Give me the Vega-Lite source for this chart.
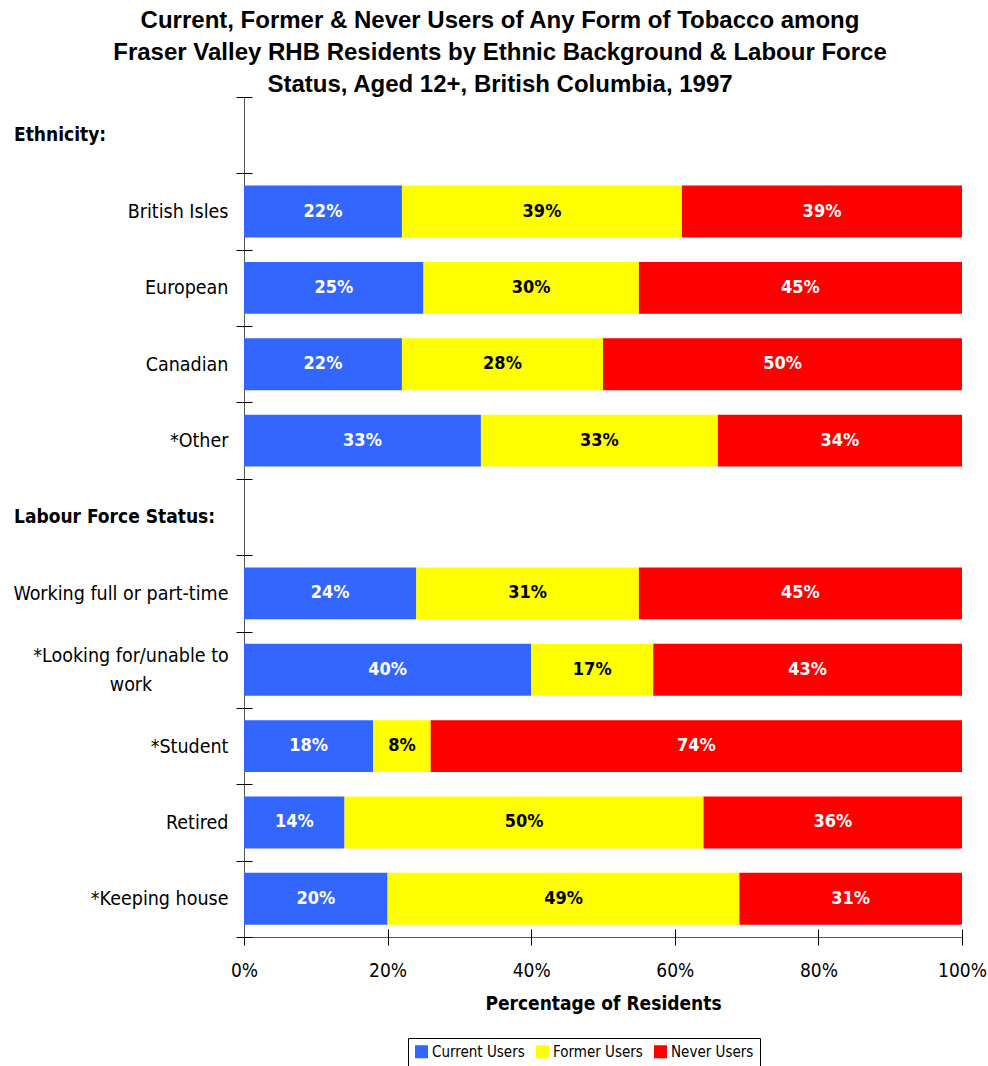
{
  "$schema": "https://vega.github.io/schema/vega-lite/v6.json",
  "width": 718,
  "height": 840,
  "autosize": "none",
  "padding": {"left": 244, "top": 97, "right": 26, "bottom": 129},
  "background": "white",
  "title": {
    "text": ["Current, Former & Never Users of Any Form of Tobacco among", "Fraser Valley RHB Residents by Ethnic Background & Labour Force", "Status, Aged 12+, British Columbia, 1997"],
    "font": "Liberation Sans",
    "fontSize": 24,
    "fontWeight": "bold",
    "lineHeight": 32,
    "anchor": "middle",
    "dx": -103,
    "offset": -10,
    "color": "black"
  },
  "datasets": {
    "bars": [
      {"group": "British Isles", "type": "Current Users", "order": 1, "value": 22},
      {"group": "British Isles", "type": "Former Users", "order": 2, "value": 39},
      {"group": "British Isles", "type": "Never Users", "order": 3, "value": 39},
      {"group": "European", "type": "Current Users", "order": 1, "value": 25},
      {"group": "European", "type": "Former Users", "order": 2, "value": 30},
      {"group": "European", "type": "Never Users", "order": 3, "value": 45},
      {"group": "Canadian", "type": "Current Users", "order": 1, "value": 22},
      {"group": "Canadian", "type": "Former Users", "order": 2, "value": 28},
      {"group": "Canadian", "type": "Never Users", "order": 3, "value": 50},
      {"group": "*Other", "type": "Current Users", "order": 1, "value": 33},
      {"group": "*Other", "type": "Former Users", "order": 2, "value": 33},
      {"group": "*Other", "type": "Never Users", "order": 3, "value": 34},
      {"group": "Working full or part-time", "type": "Current Users", "order": 1, "value": 24},
      {"group": "Working full or part-time", "type": "Former Users", "order": 2, "value": 31},
      {"group": "Working full or part-time", "type": "Never Users", "order": 3, "value": 45},
      {"group": "*Looking for/unable to work", "type": "Current Users", "order": 1, "value": 40},
      {"group": "*Looking for/unable to work", "type": "Former Users", "order": 2, "value": 17},
      {"group": "*Looking for/unable to work", "type": "Never Users", "order": 3, "value": 43},
      {"group": "*Student", "type": "Current Users", "order": 1, "value": 18},
      {"group": "*Student", "type": "Former Users", "order": 2, "value": 8},
      {"group": "*Student", "type": "Never Users", "order": 3, "value": 74},
      {"group": "Retired", "type": "Current Users", "order": 1, "value": 14},
      {"group": "Retired", "type": "Former Users", "order": 2, "value": 50},
      {"group": "Retired", "type": "Never Users", "order": 3, "value": 36},
      {"group": "*Keeping house", "type": "Current Users", "order": 1, "value": 20},
      {"group": "*Keeping house", "type": "Former Users", "order": 2, "value": 49},
      {"group": "*Keeping house", "type": "Never Users", "order": 3, "value": 31}
    ],
    "headers": [
      {"group": "Ethnicity:", "label": "Ethnicity:", "kind": "header"},
      {"group": "Labour Force Status:", "label": "Labour Force Status:", "kind": "header"}
    ],
    "wrapped": [
      {"group": "*Looking for/unable to work", "label": "*Looking for/unable to|work"}
    ]
  },
  "config": {
    "view": {"stroke": null},
    "axis": {"labelFont": "DejaVu Sans Condensed", "titleFont": "DejaVu Sans Condensed", "labelColor": "black", "titleColor": "black", "grid": false}
  },
  "resolve": {"axis": {"x": "independent", "y": "independent"}},
  "layer": [
    {
      "data": {"name": "bars"},
      "transform": [
        {"stack": "value", "groupby": ["group"], "sort": [{"field": "order"}], "as": ["x0", "x1"]}
      ],
      "mark": {"type": "bar", "height": {"band": 0.68}},
      "encoding": {
        "y": {
          "field": "group",
          "type": "nominal",
          "sort": ["Ethnicity:", "British Isles", "European", "Canadian", "*Other", "Labour Force Status:", "Working full or part-time", "*Looking for/unable to work", "*Student", "Retired", "*Keeping house"],
          "scale": {"domain": ["Ethnicity:", "British Isles", "European", "Canadian", "*Other", "Labour Force Status:", "Working full or part-time", "*Looking for/unable to work", "*Student", "Retired", "*Keeping house"], "paddingInner": 0, "paddingOuter": 0},
          "axis": {
            "title": null,
            "orient": "left",
            "tickBand": "extent",
            "tickSize": 8,
            "tickColor": "black",
            "domainColor": "#555",
            "labelFontSize": 19.5,
            "labelPadding": 8,
            "labelLimit": 300,
            "labelExpr": "datum.value == 'Ethnicity:' || datum.value == 'Labour Force Status:' || datum.value == '*Looking for/unable to work' ? '' : datum.value"
          }
        },
        "x": {
          "field": "x0",
          "type": "quantitative",
          "scale": {"domain": [0, 100], "nice": false},
          "axis": {
            "title": "Percentage of Residents",
            "orient": "bottom",
            "titleFontSize": 19,
            "titleFontWeight": "bold",
            "titlePadding": 14,
            "values": [0, 20, 40, 60, 80, 100],
            "labelExpr": "datum.value + '%'",
            "labelFontSize": 19,
            "labelFlush": false,
            "labelPadding": 16,
            "tickSize": 8,
            "tickColor": "black",
            "domainColor": "#555"
          }
        },
        "x2": {"field": "x1"},
        "color": {
          "field": "type",
          "type": "nominal",
          "scale": {"domain": ["Current Users", "Former Users", "Never Users"], "range": ["#3366FF", "#FFFF00", "#FF0000"]},
          "legend": {
            "title": null,
            "orient": "none",
            "legendX": 164,
            "legendY": 941,
            "direction": "horizontal",
            "symbolType": "square",
            "symbolSize": 170,
            "symbolStrokeWidth": 0,
            "labelFont": "DejaVu Sans Condensed",
            "labelFontSize": 15,
            "labelColor": "black",
            "strokeColor": "black",
            "padding": 6,
            "columnPadding": 10,
            "labelOffset": 3
          }
        }
      }
    },
    {
      "data": {"name": "bars"},
      "transform": [
        {"stack": "value", "groupby": ["group"], "sort": [{"field": "order"}], "as": ["x0", "x1"]},
        {"calculate": "(datum.x0 + datum.x1) / 2", "as": "xm"},
        {"calculate": "datum.value + '%'", "as": "label"}
      ],
      "mark": {"type": "text", "font": "DejaVu Sans Condensed", "fontSize": 18, "fontWeight": "bold", "baseline": "middle", "align": "center"},
      "encoding": {
        "y": {
          "field": "group",
          "type": "nominal",
          "sort": ["Ethnicity:", "British Isles", "European", "Canadian", "*Other", "Labour Force Status:", "Working full or part-time", "*Looking for/unable to work", "*Student", "Retired", "*Keeping house"],
          "axis": {
            "title": null,
            "orient": "left",
            "tickBand": "extent",
            "tickSize": -8,
            "tickColor": "black",
            "domain": false,
            "labels": false
          }
        },
        "x": {
          "field": "xm",
          "type": "quantitative",
          "axis": {
            "title": null,
            "orient": "bottom",
            "values": [0, 20, 40, 60, 80, 100],
            "tickSize": -8,
            "tickColor": "black",
            "domain": false,
            "labels": false
          }
        },
        "text": {"field": "label"},
        "color": {"condition": {"test": "datum.type == 'Former Users'", "value": "black"}, "value": "white"}
      }
    },
    {
      "data": {"name": "headers"},
      "mark": {"type": "text", "font": "DejaVu Sans Condensed", "fontSize": 19, "fontWeight": "bold", "align": "left", "baseline": "middle", "dx": -230, "color": "black"},
      "encoding": {
        "y": {"field": "group", "type": "nominal", "axis": null},
        "x": {"datum": 0, "type": "quantitative", "axis": null},
        "text": {"field": "label"}
      }
    },
    {
      "data": {"name": "wrapped"},
      "mark": {"type": "text", "font": "DejaVu Sans Condensed", "fontSize": 19.5, "align": "center", "baseline": "middle", "lineBreak": "|", "lineHeight": 29, "dx": -113, "dy": -14, "color": "black"},
      "encoding": {
        "y": {"field": "group", "type": "nominal", "axis": null},
        "x": {"datum": 0, "type": "quantitative", "axis": null},
        "text": {"field": "label"}
      }
    }
  ]
}
